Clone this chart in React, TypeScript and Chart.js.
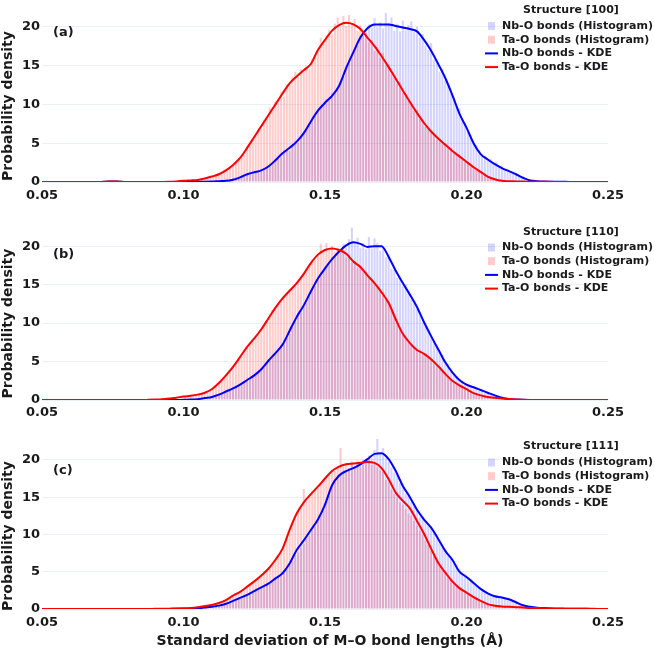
import React, { useEffect, useRef } from 'react';
import { Chart, registerables } from 'chart.js';

Chart.register(...registerables);

const FONT = '"DejaVu Sans", sans-serif';
const TEXT = '#1a1a1a';
const GRID = '#EBF0F8';
const BLUE = '#0000ff';
const RED = '#ff0000';
const BLUE_FILL = 'rgba(0,0,255,0.17)';
const RED_FILL = 'rgba(255,0,0,0.2)';

// histogram bins: 0.100 .. 0.235, width 0.001
const BIN_START = 0.1;
const BIN_WIDTH = 0.001;
// KDE grid: 0.05 .. 0.25, step 0.0025
const KDE_START = 0.05;
const KDE_STEP = 0.0025;

const X_MIN = 0.05;
const X_MAX = 0.25;
const X_STEP = 0.05;
const Y_STEP = 5;

const PANEL_LABELS = ['(a)', '(b)', '(c)'];
const STRUCTURES = ['Structure [100]', 'Structure [110]', 'Structure [111]'];
const LEGEND_LABELS = ['Nb-O bonds (Histogram)', 'Ta-O bonds (Histogram)', 'Nb-O bonds - KDE', 'Ta-O bonds - KDE'];
const Y_TITLE = 'Probability density';
const X_TITLE = 'Standard deviation of M–O bond lengths (Å)';

// ---------- Panel (a) Structure [100] ----------
const NB_HIST_A = [
  0, 0, 0, 0, 0, 0, 0, 0, 0.05, 0,
  0.1, 0.05, 0.1, 0.15, 0.2, 0.3, 0.4, 0.5, 0.6, 0.7,
  0.8, 1.0, 0.9, 1.3, 1.1, 1.4, 1.5, 1.3, 1.8, 1.9,
  2.3, 2.5, 2.9, 3.4, 3.2, 4.1, 4.3, 4.0, 4.8, 5.3,
  5.0, 5.9, 6.5, 6.8, 7.5, 8.3, 8.6, 9.4, 9.8, 10.0,
  10.7, 10.5, 11.4, 11.8, 12.0, 13.0, 13.6, 14.9, 15.3, 16.5,
  17.4, 17.6, 18.9, 19.5, 19.2, 20.3, 19.9, 21.1, 20.0, 20.6,
  19.8, 21.8, 20.5, 21.2, 19.5, 20.4, 19.4, 20.8, 19.5, 20.2,
  20.7, 19.3, 20.0, 18.6, 19.1, 17.6, 17.0, 17.9, 15.8, 15.6,
  14.2, 14.6, 13.1, 12.7, 11.4, 11.0, 9.7, 9.5, 8.0, 7.6,
  6.5, 6.0, 5.0, 4.8, 4.1, 3.5, 3.4, 2.9, 3.0, 2.4,
  2.6, 2.0, 2.1, 1.6, 1.5, 1.2, 1.3, 0.9, 0.8, 0.6,
  0.5, 0.3, 0.3, 0.2, 0.1, 0.1, 0.05, 0.05, 0, 0,
  0, 0, 0, 0, 0,
];
const TA_HIST_A = [
  0.2, 0.1, 0.2, 0.3, 0.2, 0.3, 0.4, 0.3, 0.6, 0.5,
  0.8, 0.9, 1.1, 1.0, 1.6, 1.5, 2.0, 2.3, 2.5, 3.0,
  3.3, 3.9, 4.6, 4.7, 5.6, 6.0, 6.9, 6.8, 8.0, 8.2,
  9.6, 9.3, 10.4, 10.5, 11.6, 11.0, 12.6, 12.5, 13.6, 14.2,
  13.5, 14.5, 14.2, 15.0, 14.6, 15.8, 16.2, 16.9, 18.6, 17.8,
  18.9, 19.6, 19.0, 20.4, 21.2, 20.0, 21.4, 20.1, 21.5, 20.3,
  21.0, 19.5, 20.2, 18.8, 19.3, 18.0, 18.3, 16.9, 17.4, 16.0,
  16.6, 15.0, 15.2, 13.9, 13.8, 12.7, 12.9, 11.5, 11.3, 10.4,
  10.1, 9.2, 9.3, 8.1, 8.0, 7.1, 7.2, 6.3, 6.3, 5.5,
  5.6, 4.9, 5.0, 4.3, 4.4, 3.7, 3.8, 3.2, 3.1, 2.6,
  2.5, 2.0, 2.0, 1.5, 1.5, 1.0, 1.0, 0.7, 0.6, 0.4,
  0.3, 0.2, 0.2, 0.1, 0.1, 0.1, 0.05, 0.05, 0.05, 0,
  0, 0, 0, 0, 0, 0, 0, 0, 0, 0,
  0, 0, 0, 0, 0,
];
const NB_KDE_A = [
  0, 0, 0, 0, 0, 0, 0, 0, 0, 0.03,
  0.08, 0.03, 0, 0, 0, 0, 0, 0, 0, 0,
  0, 0.01, 0.02, 0.03, 0.05, 0.1, 0.15, 0.3, 0.6, 1.0,
  1.25, 1.5, 2.0, 2.8, 3.7, 4.4, 5.2, 6.3, 7.8, 9.2,
  10.2, 11.1, 12.4, 14.7, 16.7, 18.6, 19.8, 20.3, 20.3, 20.3,
  20.1, 19.9, 19.7, 19.4, 18.3, 16.9, 15.2, 13.4, 11.2, 8.8,
  7.0, 5.0, 3.6, 2.9, 2.3, 1.8, 1.4, 1.0, 0.55, 0.2,
  0.1, 0.05, 0.03, 0.02, 0.02, 0.01, 0.01, 0.01, 0, 0,
  0,
];
const TA_KDE_A = [
  0, 0, 0, 0, 0, 0, 0, 0, 0, 0.03,
  0.08, 0.03, 0, 0, 0, 0, 0, 0.01, 0.03, 0.08,
  0.15, 0.2, 0.25, 0.45, 0.7, 1.0, 1.5, 2.2, 3.1, 4.4,
  5.8, 7.2, 8.6, 10.0, 11.4, 12.7, 13.6, 14.4, 15.2, 17.0,
  18.3, 19.5, 20.2, 20.5, 20.3, 19.7, 18.6, 17.5, 16.2, 14.8,
  13.3, 11.8, 10.3, 8.9, 7.6, 6.5, 5.6, 4.8, 4.0, 3.3,
  2.6, 1.9, 1.3, 0.7, 0.35, 0.15, 0.1, 0.08, 0.05, 0.04,
  0.03, 0.02, 0.02, 0.01, 0.01, 0.01, 0, 0, 0, 0,
  0,
];

// ---------- Panel (b) Structure [110] ----------
const NB_HIST_B = [
  0, 0, 0.05, 0.05, 0.1, 0.1, 0.15, 0.2, 0.3, 0.35,
  0.4, 0.5, 0.6, 0.8, 0.9, 1.2, 1.2, 1.5, 1.6, 1.8,
  2.0, 2.3, 2.4, 2.8, 2.9, 3.4, 3.6, 4.1, 4.4, 4.8,
  5.3, 5.6, 6.0, 6.6, 6.7, 7.8, 8.1, 8.6, 9.5, 10.2,
  11.1, 11.3, 12.4, 12.6, 13.6, 14.5, 14.8, 15.7, 16.1, 16.9,
  17.3, 17.6, 18.6, 18.8, 19.5, 19.3, 20.3, 19.8, 20.9, 22.4,
  20.6, 21.1, 19.8, 20.4, 19.6, 21.2, 19.7, 21.0, 20.4, 19.4,
  19.8, 18.6, 18.9, 17.1, 16.9, 15.9, 15.8, 14.9, 15.0, 13.9,
  13.1, 12.9, 11.8, 11.4, 10.2, 9.6, 9.0, 8.2, 7.6, 6.9,
  6.3, 5.9, 4.9, 4.7, 3.8, 3.4, 3.1, 2.6, 2.4, 2.1,
  1.8, 1.8, 1.5, 1.6, 1.2, 1.1, 0.9, 0.9, 0.7, 0.6,
  0.5, 0.4, 0.3, 0.2, 0.15, 0.1, 0.1, 0.05, 0.05, 0,
  0, 0, 0, 0, 0, 0, 0, 0, 0, 0,
  0, 0, 0, 0, 0,
];
const TA_HIST_B = [
  0.5, 0.5, 0.6, 0.6, 0.7, 0.8, 0.8, 0.9, 1.1, 1.2,
  1.5, 1.8, 2.2, 2.5, 3.0, 3.4, 3.8, 4.3, 4.7, 5.3,
  5.8, 6.4, 6.8, 7.5, 7.7, 8.3, 8.5, 9.2, 9.8, 10.3,
  10.9, 11.7, 12.0, 12.6, 12.9, 13.5, 13.7, 14.1, 14.5, 15.0,
  15.3, 16.0, 16.4, 17.2, 17.4, 18.3, 18.2, 18.9, 20.3, 19.2,
  20.4, 19.6, 20.0, 19.3, 19.8, 19.2, 19.5, 18.5, 18.8, 17.9,
  18.1, 17.2, 17.5, 16.6, 16.7, 15.9, 15.6, 15.0, 14.9, 14.2,
  14.0, 13.3, 12.8, 11.9, 11.0, 10.2, 9.4, 8.6, 8.3, 7.5,
  7.2, 6.9, 6.5, 6.5, 6.0, 6.0, 5.5, 5.2, 4.9, 4.5,
  4.3, 3.8, 3.5, 3.0, 2.6, 2.3, 2.0, 1.8, 1.6, 1.4,
  1.2, 1.0, 0.9, 0.7, 0.6, 0.5, 0.4, 0.4, 0.3, 0.3,
  0.2, 0.2, 0.2, 0.1, 0.1, 0.1, 0.05, 0, 0, 0,
  0, 0, 0, 0, 0, 0, 0, 0, 0, 0,
  0, 0, 0, 0, 0,
];
const NB_KDE_B = [
  0, 0, 0, 0, 0, 0, 0, 0, 0, 0,
  0, 0, 0, 0, 0, 0, 0, 0, 0, 0.01,
  0.02, 0.05, 0.1, 0.25, 0.4, 0.7, 1.1, 1.5, 2.0, 2.6,
  3.2, 4.0, 5.1, 6.1, 7.2, 9.0, 10.8, 12.3, 14.1, 15.8,
  17.1, 18.3, 19.3, 20.1, 20.5, 20.3, 19.9, 20.0, 20.0, 18.6,
  16.8, 15.2, 13.7, 12.1, 10.1, 8.3, 6.6, 4.9, 3.6, 2.6,
  2.0, 1.65, 1.3, 0.95, 0.6, 0.3, 0.12, 0.05, 0.02, 0.01,
  0, 0, 0, 0, 0, 0, 0, 0, 0, 0,
  0,
];
const TA_KDE_B = [
  0, 0, 0, 0, 0, 0, 0, 0, 0, 0,
  0, 0, 0, 0, 0, 0.02, 0.05, 0.1, 0.2, 0.3,
  0.45, 0.55, 0.7, 0.95, 1.4, 2.2, 3.2, 4.3, 5.6, 6.9,
  8.0, 9.2, 10.6, 12.0, 13.2, 14.2, 15.2, 16.4, 17.8, 18.9,
  19.5, 19.7, 19.5, 19.0, 18.0, 17.3, 16.2, 15.2, 14.0, 12.6,
  10.5, 8.6, 7.4, 6.5, 6.0, 5.3, 4.4, 3.4, 2.5, 1.9,
  1.4, 0.9, 0.6, 0.4, 0.3, 0.2, 0.12, 0.06, 0.03, 0.01,
  0, 0, 0, 0, 0, 0, 0, 0, 0, 0,
  0,
];

// ---------- Panel (c) Structure [111] ----------
const NB_HIST_C = [
  0.05, 0.05, 0.1, 0.1, 0.15, 0.15, 0.2, 0.2, 0.25, 0.3,
  0.35, 0.4, 0.5, 0.55, 0.7, 0.8, 0.9, 1.1, 1.2, 1.4,
  1.5, 1.7, 1.8, 2.0, 2.2, 2.5, 2.6, 2.8, 3.0, 3.2,
  3.4, 3.6, 4.0, 4.3, 4.4, 5.0, 5.3, 6.0, 6.4, 7.2,
  7.6, 8.2, 8.7, 9.4, 9.8, 10.6, 11.0, 11.9, 12.4, 13.4,
  14.5, 15.6, 16.5, 17.3, 18.0, 18.1, 18.6, 18.4, 18.9, 19.4,
  19.0, 19.7, 19.4, 20.0, 19.8, 20.6, 20.2, 21.3, 22.8, 21.0,
  21.6, 20.2, 19.8, 19.0, 18.3, 18.0, 16.9, 16.7, 15.5, 15.2,
  14.4, 13.8, 13.3, 12.4, 12.3, 11.8, 11.4, 11.0, 10.3, 9.9,
  9.2, 8.4, 7.9, 7.2, 6.9, 6.4, 6.0, 5.4, 5.0, 4.7,
  4.2, 3.9, 3.6, 3.2, 2.8, 2.6, 2.3, 2.1, 1.9, 1.8,
  1.7, 1.6, 1.6, 1.4, 1.3, 1.2, 1.0, 0.9, 0.7, 0.6,
  0.5, 0.4, 0.3, 0.3, 0.2, 0.15, 0.1, 0.1, 0.08, 0.05,
  0.05, 0.03, 0.03, 0.02, 0.02,
];
const TA_HIST_C = [
  0.1, 0.15, 0.15, 0.2, 0.25, 0.3, 0.3, 0.4, 0.45, 0.5,
  0.6, 0.7, 0.8, 0.9, 1.1, 1.3, 1.5, 1.6, 1.9, 2.0,
  2.3, 2.6, 3.0, 3.2, 3.6, 3.8, 4.3, 4.4, 5.0, 5.1,
  5.6, 6.0, 6.6, 7.1, 7.7, 8.4, 9.6, 10.4, 11.5, 12.0,
  13.1, 13.5, 16.1, 14.5, 15.3, 15.6, 16.0, 16.2, 16.9, 17.3,
  17.8, 18.0, 18.6, 18.5, 19.2, 21.6, 19.1, 19.6, 18.9, 19.8,
  19.2, 19.9, 19.0, 19.6, 19.4, 20.0, 19.3, 19.5, 19.0, 18.6,
  18.4, 17.3, 17.0, 16.0, 15.4, 14.9, 14.3, 14.0, 13.4, 12.8,
  12.5, 11.8, 11.2, 10.5, 10.0, 9.2, 8.6, 7.8, 7.1, 6.6,
  5.9, 5.3, 4.8, 4.3, 3.9, 3.5, 3.1, 2.8, 2.5, 2.3,
  2.0, 1.8, 1.5, 1.3, 1.1, 0.9, 0.7, 0.6, 0.5, 0.45,
  0.4, 0.35, 0.35, 0.3, 0.3, 0.25, 0.25, 0.2, 0.2, 0.15,
  0.15, 0.12, 0.1, 0.1, 0.08, 0.08, 0.06, 0.06, 0.05, 0.05,
  0.04, 0.04, 0.03, 0.03, 0.02,
];
const NB_KDE_C = [
  0, 0, 0, 0, 0, 0, 0, 0, 0, 0,
  0, 0, 0, 0, 0, 0, 0, 0, 0.01, 0.02,
  0.03, 0.05, 0.1, 0.2, 0.3, 0.45, 0.7, 1.1, 1.5, 1.9,
  2.4, 2.9, 3.4, 4.1, 4.8, 6.1, 7.9, 9.2, 10.6, 12.0,
  14.0, 16.6, 17.9, 18.5, 18.9, 19.4, 20.1, 20.8, 20.9, 20.1,
  18.5, 16.5, 15.0, 13.3, 12.0, 10.9, 9.4, 7.8, 6.6, 5.0,
  4.3, 3.5, 2.7, 2.1, 1.7, 1.55, 1.3, 0.9, 0.5, 0.3,
  0.18, 0.12, 0.08, 0.05, 0.04, 0.03, 0.02, 0.02, 0.01, 0.01,
  0.01,
];
const TA_KDE_C = [
  0, 0, 0, 0, 0, 0, 0, 0, 0, 0,
  0, 0, 0, 0, 0, 0.01, 0.02, 0.03, 0.05, 0.07,
  0.1, 0.15, 0.25, 0.4, 0.55, 0.8, 1.2, 1.8, 2.3, 3.0,
  3.7, 4.5, 5.4, 6.6, 8.1, 10.6, 12.8, 14.3, 15.4, 16.4,
  17.5, 18.5, 19.1, 19.4, 19.5, 19.6, 19.7, 19.6, 18.9, 17.4,
  15.6, 14.5, 13.5, 11.8, 10.1, 8.1, 6.2, 4.9, 3.7, 2.8,
  2.2, 1.6, 1.1, 0.65, 0.45, 0.35, 0.3, 0.25, 0.2, 0.15,
  0.12, 0.1, 0.08, 0.06, 0.05, 0.04, 0.03, 0.02, 0.02, 0.01,
  0.01,
];

const Y_MAX = [22.8, 23.4, 23.6];

// layout (pixels) for each stacked panel
const LAYOUT = [
  { top: 0, height: 212, padTop: 5, xAxisH: 30, tickPad: 6, labelY: 33, titleY: 10, rowY0: 26, yTitleY: 106, xTitleY: 0 },
  { top: 212, height: 218, padTop: 8, xAxisH: 30, tickPad: 5, labelY: 43, titleY: 20, rowY0: 35.5, yTitleY: 111.5, xTitleY: 0 },
  { top: 430, height: 220, padTop: 3, xAxisH: 41, tickPad: 6, labelY: 41, titleY: 16, rowY0: 32.5, yTitleY: 106, xTitleY: 211 },
];

const PANEL_DATA = [
  { nbHist: NB_HIST_A, taHist: TA_HIST_A, nbKde: NB_KDE_A, taKde: TA_KDE_A },
  { nbHist: NB_HIST_B, taHist: TA_HIST_B, nbKde: NB_KDE_B, taKde: TA_KDE_B },
  { nbHist: NB_HIST_C, taHist: TA_HIST_C, nbKde: NB_KDE_C, taKde: TA_KDE_C },
];

const toBins = (arr: number[]) => arr.map((y, i) => ({ x: BIN_START + BIN_WIDTH * (i + 0.5), y }));
const toKde = (arr: number[]) => arr.map((y, k) => ({ x: KDE_START + KDE_STEP * k, y }));

function makeOverlay(idx: number, lay: any) {
  return {
    id: 'overlay' + idx,
    afterDraw(chart: any) {
      const ctx = chart.ctx as CanvasRenderingContext2D;
      ctx.save();
      // panel label
      ctx.fillStyle = TEXT;
      ctx.textBaseline = 'middle';
      ctx.textAlign = 'left';
      ctx.font = `bold 13px ${FONT}`;
      ctx.fillText(PANEL_LABELS[idx], 53, lay.labelY);
      // y title
      ctx.save();
      ctx.translate(8.5, lay.yTitleY);
      ctx.rotate(-Math.PI / 2);
      ctx.textAlign = 'center';
      ctx.font = `bold 14px ${FONT}`;
      ctx.fillText(Y_TITLE, 0, 0);
      ctx.restore();
      // x title
      if (lay.xTitleY) {
        ctx.textAlign = 'center';
        ctx.font = `bold 14px ${FONT}`;
        ctx.fillText(X_TITLE, 330, lay.xTitleY);
      }
      // legend
      ctx.font = `bold 11px ${FONT}`;
      ctx.textAlign = 'center';
      ctx.fillText(STRUCTURES[idx], 571, lay.titleY);
      ctx.textAlign = 'left';
      const fills = [BLUE_FILL, RED_FILL];
      const lines = [BLUE, RED];
      LEGEND_LABELS.forEach((txt, i) => {
        const y = lay.rowY0 + i * 13.7;
        if (i < 2) {
          ctx.fillStyle = fills[i];
          ctx.fillRect(488, y - 4, 7, 8);
        } else {
          ctx.strokeStyle = lines[i - 2];
          ctx.lineWidth = 2;
          ctx.beginPath();
          ctx.moveTo(485, y);
          ctx.lineTo(498, y);
          ctx.stroke();
        }
        ctx.fillStyle = TEXT;
        ctx.fillText(txt, 502, y);
      });
      ctx.restore();
    },
  };
}

function Panel({ idx }: { idx: number }) {
  const ref = useRef<HTMLCanvasElement>(null);
  const lay = LAYOUT[idx];
  useEffect(() => {
    const d = PANEL_DATA[idx];
    const tickFont = { family: FONT, size: 13, weight: 'bold' as const };
    const chart = new Chart(ref.current!, {
      type: 'bar',
      data: {
        datasets: [
          {
            type: 'line', label: LEGEND_LABELS[3], data: toKde(d.taKde) as any,
            borderColor: RED, borderWidth: 2, pointRadius: 0, fill: false,
            cubicInterpolationMode: 'monotone', order: 0,
          } as any,
          {
            type: 'line', label: LEGEND_LABELS[2], data: toKde(d.nbKde) as any,
            borderColor: BLUE, borderWidth: 2, pointRadius: 0, fill: false,
            cubicInterpolationMode: 'monotone', order: 1,
          } as any,
          {
            type: 'bar', label: LEGEND_LABELS[1], data: toBins(d.taHist) as any,
            backgroundColor: RED_FILL, borderWidth: 0, grouped: false,
            barPercentage: 0.75, categoryPercentage: 1, order: 2,
          } as any,
          {
            type: 'bar', label: LEGEND_LABELS[0], data: toBins(d.nbHist) as any,
            backgroundColor: BLUE_FILL, borderWidth: 0, grouped: false,
            barPercentage: 0.75, categoryPercentage: 1, order: 3,
          } as any,
        ],
      },
      options: {
        responsive: false,
        animation: false,
        layout: { padding: { top: lay.padTop, right: 46, left: 0, bottom: 0 } },
        plugins: { legend: { display: false }, tooltip: { enabled: false }, title: { display: false } },
        scales: {
          x: {
            type: 'linear', min: X_MIN, max: X_MAX, offset: false,
            grid: { display: false, drawTicks: false },
            border: { display: false },
            ticks: {
              stepSize: X_STEP, padding: lay.tickPad, font: tickFont, color: TEXT,
              maxRotation: 0, autoSkip: false,
              callback: (v: any) => Number(v).toFixed(2),
            },
            afterFit: (s: any) => { s.height = lay.xAxisH; s.paddingLeft = 0; s.paddingRight = 0; },
          },
          y: {
            type: 'linear', min: 0, max: Y_MAX[idx],
            grid: { color: GRID, drawTicks: false, lineWidth: 1 },
            border: { display: false },
            ticks: { stepSize: Y_STEP, includeBounds: false, padding: 2, font: tickFont, color: TEXT },
            afterFit: (s: any) => { s.width = 42; s.paddingTop = 0; s.paddingBottom = 0; },
          },
        },
      } as any,
      plugins: [makeOverlay(idx, lay)],
    });
    return () => chart.destroy();
  }, [idx]);
  return (
    <div style={{ position: 'absolute', left: 0, top: lay.top, width: 654, height: lay.height }}>
      <canvas ref={ref} width={654} height={lay.height} style={{ display: 'block' }} />
    </div>
  );
}

export default function App() {
  return (
    <div style={{ position: 'absolute', left: 0, top: 0, width: 654, height: 650, background: '#ffffff' }}>
      <Panel idx={0} />
      <Panel idx={1} />
      <Panel idx={2} />
    </div>
  );
}
